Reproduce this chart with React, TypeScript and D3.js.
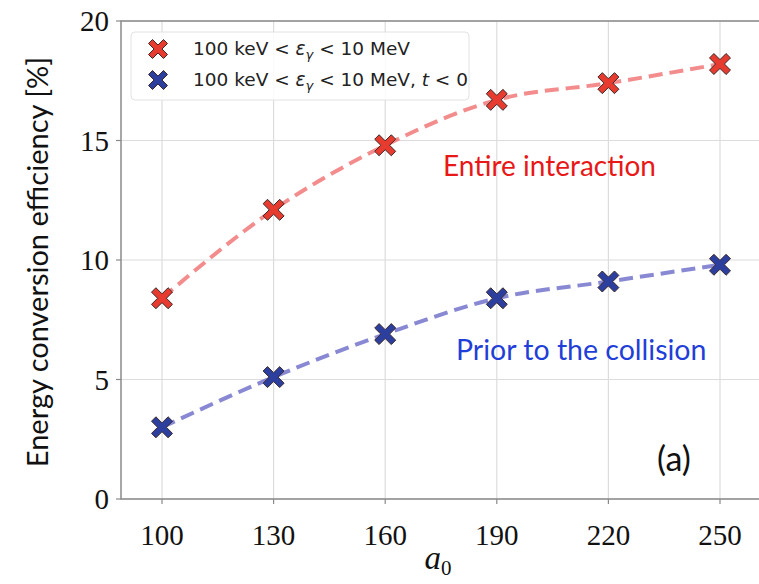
import React, { useRef, useEffect } from "react";
import * as d3 from "d3";

const a0Values = [100, 130, 160, 190, 220, 250];
const entireValues = [8.4, 12.1, 14.8, 16.7, 17.4, 18.2];
const priorValues = [3.0, 5.1, 6.9, 8.4, 9.1, 9.8];
const yTicks = [0, 5, 10, 15, 20];

const W = 759;
const H = 584;

function xMark(size: number) {
  // filled "X" marker like matplotlib's 'X'
  const s = size / 2;
  const t = s * 0.42;
  const pts: [number, number][] = [
    [-s, -s + t], [-s + t, -s], [0, -t], [s - t, -s], [s, -s + t], [t, 0],
    [s, s - t], [s - t, s], [0, t], [-s + t, s], [-s, s - t], [-t, 0],
  ];
  return "M" + pts.map((p) => p.join(",")).join("L") + "Z";
}

export default function App() {
  const ref = useRef<SVGSVGElement>(null);

  useEffect(() => {
    const svg = d3.select(ref.current);
    svg.selectAll("*").remove();

    const left = 121, top = 21, bottom = 499, right = 770;
    // 100 -> 162, 250 -> 720
    const k = (720 - 162) / 150;
    const x = d3.scaleLinear()
      .domain([100 - (162 - left) / k, 250 + (right - 720) / k])
      .range([left, right]);
    const y = d3.scaleLinear().domain([0, 20]).range([bottom, top]);

    const g = svg.append("g");

    // grid
    g.selectAll(".gx").data(a0Values).enter().append("line")
      .attr("x1", (d) => x(d)).attr("x2", (d) => x(d))
      .attr("y1", top).attr("y2", bottom)
      .attr("stroke", "#dcdcdc").attr("stroke-width", 1.2);
    g.selectAll(".gy").data(yTicks).enter().append("line")
      .attr("x1", left).attr("x2", right)
      .attr("y1", (d) => y(d)).attr("y2", (d) => y(d))
      .attr("stroke", "#dcdcdc").attr("stroke-width", 1.2);

    // frame
    g.append("rect")
      .attr("x", left).attr("y", top)
      .attr("width", right - left).attr("height", bottom - top)
      .attr("fill", "none").attr("stroke", "#8a8a8a").attr("stroke-width", 1.5);

    // ticks
    g.selectAll(".tx").data(a0Values).enter().append("line")
      .attr("x1", (d) => x(d)).attr("x2", (d) => x(d))
      .attr("y1", bottom).attr("y2", bottom + 5)
      .attr("stroke", "#8a8a8a").attr("stroke-width", 1.2);
    g.selectAll(".ty").data(yTicks).enter().append("line")
      .attr("x1", left - 5).attr("x2", left)
      .attr("y1", (d) => y(d)).attr("y2", (d) => y(d))
      .attr("stroke", "#8a8a8a").attr("stroke-width", 1.2);

    // tick labels
    g.selectAll(".lx").data(a0Values).enter().append("text")
      .attr("x", (d) => x(d)).attr("y", bottom + 46)
      .attr("text-anchor", "middle")
      .style("font", "29px 'Liberation Serif', serif")
      .attr("fill", "#111")
      .text((d) => d);
    g.selectAll(".ly").data(yTicks).enter().append("text")
      .attr("x", left - 12).attr("y", (d) => y(d) + 10)
      .attr("text-anchor", "end")
      .style("font", "29px 'Liberation Serif', serif")
      .attr("fill", "#111")
      .text((d) => d);

    // axis titles
    const xt = g.append("text")
      .attr("x", 438).attr("y", 569)
      .attr("text-anchor", "middle")
      .style("font", "italic 33px 'Liberation Serif', serif")
      .attr("fill", "#111");
    xt.append("tspan").text("a");
    xt.append("tspan").attr("dy", 6).style("font-size", "21px").style("font-style", "normal").text("0");

    g.append("text")
      .attr("transform", `translate(48,${(top + bottom) / 2 + 2}) rotate(-90)`)
      .attr("text-anchor", "middle")
      .style("font", "29px Lato, sans-serif")
      .attr("fill", "#111")
      .text("Energy conversion efficiency [%]");

    const line = d3.line<number>()
      .x((d, i) => x(a0Values[i]))
      .y((d) => y(d))
      .curve(d3.curveMonotoneX);

    const series = [
      { values: entireValues, line: "#f07070", fill: "#e63b2e" },
      { values: priorValues, line: "#6b6bc8", fill: "#2c3f9e" },
    ];

    series.forEach((s) => {
      g.append("path")
        .datum(s.values)
        .attr("fill", "none")
        .attr("stroke", s.line)
        .attr("stroke-opacity", 0.8)
        .attr("stroke-width", 4)
        .attr("stroke-dasharray", "14,7")
        .attr("d", line);
      g.selectAll(null).data(s.values).enter().append("path")
        .attr("transform", (d, i) => `translate(${x(a0Values[i])},${y(d)})`)
        .attr("d", xMark(21))
        .attr("fill", s.fill)
        .attr("stroke", "#3a2a2a")
        .attr("stroke-width", 1);
    });

    // legend
    const lg = g.append("g");
    lg.append("rect")
      .attr("x", 131).attr("y", 32).attr("width", 338).attr("height", 68)
      .attr("rx", 4)
      .attr("fill", "white").attr("fill-opacity", 0.85)
      .attr("stroke", "#e2e2e2").attr("stroke-width", 1);
    const legendItems = [
      { fill: "#e63b2e", suffix: "" },
      { fill: "#2c3f9e", suffix: ", " },
    ];
    legendItems.forEach((it, i) => {
      const cy = 49 + i * 31;
      lg.append("path")
        .attr("transform", `translate(158,${cy})`)
        .attr("d", xMark(19))
        .attr("fill", it.fill)
        .attr("stroke", "#3a2a2a").attr("stroke-width", 1);
      const t = lg.append("text")
        .attr("x", 193).attr("y", cy + 6)
        .style("font", "18.5px 'DejaVu Sans', sans-serif")
        .attr("fill", "#222");
      t.append("tspan").text("100 keV < ");
      t.append("tspan").style("font-style", "italic").text("ε");
      t.append("tspan").attr("dy", 4).style("font-size", "13px").style("font-style", "italic").text("γ");
      t.append("tspan").attr("dy", -4).text(" < 10 MeV" + it.suffix);
      if (it.suffix) {
        t.append("tspan").style("font-style", "italic").text("t");
        t.append("tspan").text(" < 0");
      }
    });

    // annotations
    g.append("text")
      .attr("x", 443).attr("y", 176)
      .style("font", "28px Lato, sans-serif")
      .attr("fill", "#e81818")
      .text("Entire interaction");
    g.append("text")
      .attr("x", 456).attr("y", 360)
      .style("font", "28.5px Lato, sans-serif")
      .attr("fill", "#1f3fd8")
      .text("Prior to the collision");
    g.append("text")
      .attr("x", 657).attr("y", 471)
      .style("font", "34px Lato, sans-serif")
      .attr("fill", "#111")
      .text("(a)");
  }, []);

  return (
    <svg
      ref={ref}
      width={W}
      height={H}
      style={{ display: "block", position: "absolute", left: 0, top: 0, background: "white" }}
    />
  );
}
